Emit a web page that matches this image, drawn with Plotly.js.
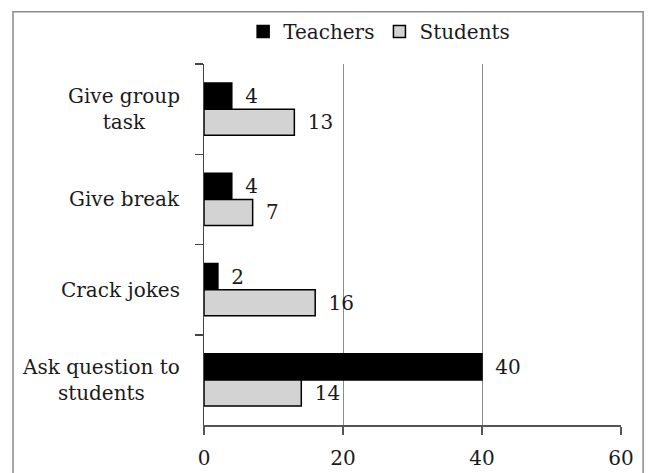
<!DOCTYPE html>
<html><head><meta charset="utf-8">
<script src="https://cdn.plot.ly/plotly-3.0.1.min.js"></script>
<style>html,body{margin:0;padding:0;background:#fff}#chart{width:648px;height:473px}</style>
</head><body><div id="chart"></div>
<script>
const categories = ["Give group<br>task", "Give break", "Crack jokes", "Ask question to<br>students"];
const teachers = [4, 4, 2, 40];
const students = [13, 7, 16, 14];
const xTicks = [0, 20, 40, 60];

const font = {family: "DejaVu Serif, Liberation Serif, serif", size: 20, color: "#1a1a1a"};
const pad = "\u00a0\u2009";

const traces = [
  {type: "bar", orientation: "h", name: "Teachers", y: categories, x: teachers,
   text: teachers.map(v => pad + v), textposition: "outside", cliponaxis: false,
   textfont: font, marker: {color: "#000", line: {color: "#000", width: 1.5}}},
  {type: "bar", orientation: "h", name: "Students", y: categories, x: students,
   text: students.map(v => pad + v), textposition: "outside", cliponaxis: false,
   textfont: font, marker: {color: "#d3d3d3", line: {color: "#000", width: 1.5}}}
];

const annotations = categories.map(c => ({
  xref: "paper", yref: "y", x: -0.053, y: c, xanchor: "right", yanchor: "middle",
  align: "center", text: c, showarrow: false, font: font
}));

const layout = {
  width: 648, height: 473,
  margin: {l: 204, r: 27, t: 62, b: 48},
  paper_bgcolor: "#fff", plot_bgcolor: "#fff",
  font: font,
  barmode: "group", bargap: 0.42, bargroupgap: 0,
  showlegend: true,
  legend: {orientation: "h", x: 0.42, xanchor: "center", y: 1.09, yanchor: "middle",
           bgcolor: "rgba(0,0,0,0)", font: font, itemwidth: 30, tracegroupgap: 0},
  xaxis: {range: [0, 60], tickvals: xTicks, ticktext: xTicks.map(String),
          showgrid: true, gridcolor: "#8c8c8c", gridwidth: 1, zeroline: false,
          showline: true, linecolor: "#555", linewidth: 1.5,
          ticks: "outside", ticklen: 8, tickcolor: "#555", tickwidth: 1.5,
          ticklabelstandoff: 6, tickfont: font, fixedrange: true},
  yaxis: {type: "category", autorange: "reversed", tickson: "boundaries",
          showline: true, linecolor: "#444", linewidth: 1.5,
          ticks: "outside", ticklen: 8, tickcolor: "#444", tickwidth: 1.5,
          showgrid: false, showticklabels: false, fixedrange: true},
  annotations: annotations,
  shapes: [{type: "rect", xref: "paper", yref: "paper",
            x0: -0.458, x1: 1.053, y0: -0.2, y1: 1.145,
            line: {color: "#8a8a8a", width: 1.5}, fillcolor: "rgba(0,0,0,0)", layer: "below"}]
};

Plotly.newPlot("chart", traces, layout, {displayModeBar: false, staticPlot: true});
</script></body></html>
